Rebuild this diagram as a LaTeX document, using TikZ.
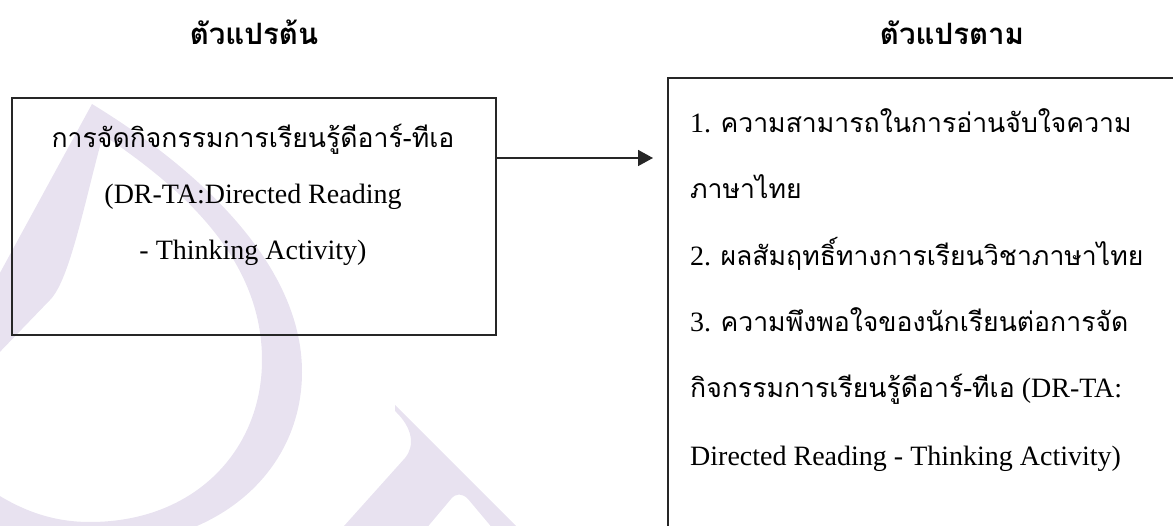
\documentclass[tikz,border=0pt]{standalone}
\usepackage{fontspec}
\setmainfont{Liberation Serif}
\newfontfamily\thaifont[Script=Thai,Scale=0.95]{Loma}
\usetikzlibrary{arrows.meta}

\definecolor{wmlilac}{RGB}{232,226,240}
\newcommand\thai[1]{{\thaifont #1}}

\tikzset{
  framebox/.style={draw=black!85, line width=2.2pt, inner sep=0pt},
  bodytext/.style={inner sep=0pt, font=\fontsize{28}{28}\selectfont},
  headtext/.style={inner sep=0pt, font=\fontsize{31}{31}\selectfont\bfseries},
  flowarrow/.style={line width=1.6pt, draw=black!85,
    -{Triangle[length=15pt,width=16pt]}}
}

\begin{document}
\begin{tikzpicture}[x=1pt,y=-1pt]
  \useasboundingbox (0,0) rectangle (1173,526);
  \clip (0,0) rectangle (1173,526);

  %% watermark
  \fill[wmlilac] (92,104) .. controls (200,170) and (302,265) .. (302,372)
    .. controls (302,470) and (220,545) .. (100,545) -- (-5,545) -- (-5,493)
    .. controls (25,512) and (55,522) .. (90,522)
    .. controls (195,522) and (262,450) .. (262,360)
    .. controls (262,260) and (185,190) .. (103,135)
    .. controls (85,200) and (70,280) .. (50,300) -- (-5,357) -- (-5,282) -- cycle;
  \fill[wmlilac] (395,405) -- (545,555) -- (515,555)
    -- (468,499) .. controls (462,493) and (456,493) .. (451,499)
    -- (404,555) -- (318,555) -- (405,458)
    .. controls (415,446) and (413,428) .. (395,411) -- cycle;

  %% headings
  \node[headtext, anchor=base] (srchead) at (254,45) {\thai{ตัวแปรต้น}};
  \node[headtext, anchor=base] (outhead) at (952,45) {\thai{ตัวแปรตาม}};

  %% boxes
  \node[framebox, anchor=north west, minimum width=484pt, minimum height=237pt]
    (srcbox) at (11,97) {};
  \node[framebox, anchor=north west, minimum width=600pt, minimum height=520pt]
    (outbox) at (667,77) {};

  %% independent variable
  \node[bodytext, anchor=base] (srcline1) at (253,148)
    {\thai{การจัดกิจกรรมการเรียนรู้ดีอาร์-ทีเอ}};
  \node[bodytext, anchor=base] (srcline2) at (253,204) {(DR-TA:Directed Reading};
  \node[bodytext, anchor=base] (srcline3) at (253,260) {- Thinking Activity)};

  %% dependent variables
  \node[bodytext, anchor=base west] (outline1) at (690,133)
    {1. \thai{ความสามารถในการอ่านจับใจความ}};
  \node[bodytext, anchor=base west] (outline2) at (690,199) {\thai{ภาษาไทย}};
  \node[bodytext, anchor=base west] (outline3) at (690,266)
    {2. \thai{ผลสัมฤทธิ์ทางการเรียนวิชาภาษาไทย}};
  \node[bodytext, anchor=base west] (outline4) at (690,332)
    {3. \thai{ความพึงพอใจของนักเรียนต่อการจัด}};
  \node[bodytext, anchor=base west] (outline5) at (690,398)
    {\thai{กิจกรรมการเรียนรู้ดีอาร์-ทีเอ} (DR-TA:};
  \node[bodytext, anchor=base west] (outline6) at (690,465)
    {Directed Reading - Thinking Activity)};

  %% arrow
  \coordinate (arrowtip) at (653,158);
  \draw[flowarrow] (srcbox.east |- arrowtip) -- (arrowtip);

\end{tikzpicture}
\end{document}
